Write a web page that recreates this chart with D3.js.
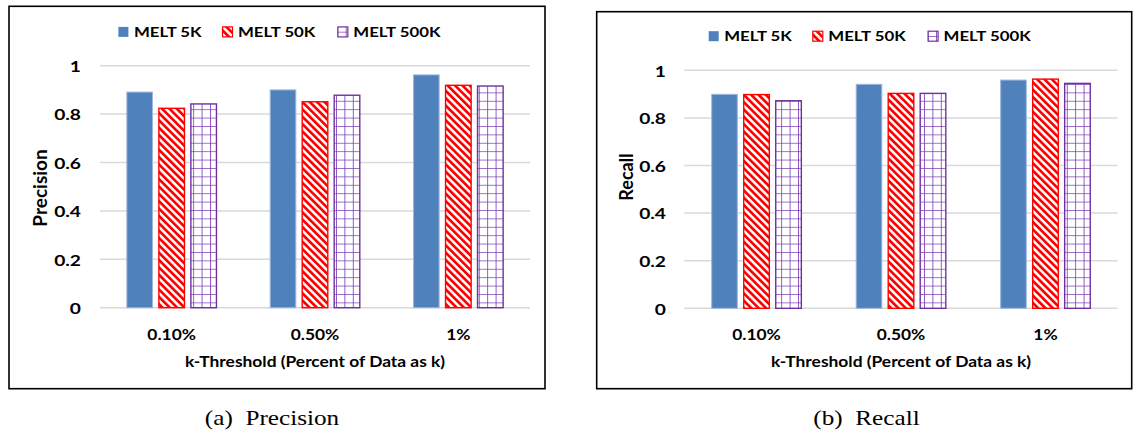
<!DOCTYPE html>
<html>
<head>
<meta charset="utf-8">
<script src="https://cdn.jsdelivr.net/npm/d3@7"></script>
<style>
  html, body { margin: 0; padding: 0; background: #fff; }
  svg { display: block; }
  text { font-family: Lato, "Open Sans", sans-serif; font-weight: bold; fill: #000; }
  .cap { font-family: "Liberation Serif", "Times New Roman", serif; font-weight: normal; white-space: pre; }
</style>
</head>
<body>
<svg id="chart" width="1133" height="434"></svg>
<script>
// ---------- data ----------
const categories = ["0.10%", "0.50%", "1%"];
const seriesNames = ["MELT 5K", "MELT 50K", "MELT 500K"];
const yTicks = [0, 0.2, 0.4, 0.6, 0.8, 1];

const precision5K   = [0.891, 0.900, 0.962];
const precision50K  = [0.824, 0.851, 0.919];
const precision500K = [0.842, 0.878, 0.916];

const recall5K   = [0.899, 0.941, 0.959];
const recall50K  = [0.898, 0.903, 0.963];
const recall500K = [0.872, 0.903, 0.945];

const xTitle = "k-Threshold (Percent of Data as k)";

// ---------- layout ----------
const SX = 1.2; // horizontal stretch of the text in the reference
const svg = d3.select("#chart");

const defs = svg.append("defs");
// red wide downward diagonal stripes
const pStripe = defs.append("pattern")
  .attr("id", "stripes").attr("patternUnits", "userSpaceOnUse")
  .attr("width", 5.2).attr("height", 5.2)
  .attr("patternTransform", "rotate(-45)");
pStripe.append("rect").attr("width", 5.2).attr("height", 5.2).attr("fill", "#fff");
pStripe.append("rect").attr("width", 2.7).attr("height", 5.2).attr("fill", "#FF0000");
// purple large grid
const pGrid = defs.append("pattern")
  .attr("id", "grid").attr("patternUnits", "userSpaceOnUse")
  .attr("width", 8.4).attr("height", 8.4);
pGrid.append("rect").attr("width", 8.4).attr("height", 8.4).attr("fill", "#fff");
pGrid.append("path").attr("d", "M0,0H8.4M0,0V8.4")
  .attr("stroke", "#7A38B4").attr("stroke-width", 1.6).attr("fill", "none");

const fills   = ["#4F81BD", "url(#stripes)", "url(#grid)"];
const strokes = ["#9DB6DA", "#FF0000", "#7030A0"];
const strokeW = [1, 1.4, 1.4];

const panels = [
  {
    values: [precision5K, precision50K, precision500K],
    frame: [9, 6.3, 545, 388.7],
    xr: [100, 530], yr: [307.7, 65.7],
    ylab: "Precision", ylabX: 40, ylabY: 188, ylabSize: 19,
    legendY: 31.7, legendX: 117.9,
    tickRight: 81, catY: 335, titleY: 362,
    caption: "(a)  Precision", capX: 272, capY: 425
  },
  {
    values: [recall5K, recall50K, recall500K],
    frame: [596.7, 11.7, 1131.7, 388.7],
    xr: [684.3, 1117.7], yr: [308.3, 70.3],
    ylab: "Recall", ylabX: 626.7, ylabY: 177, ylabSize: 18,
    legendY: 36, legendX: 708.2,
    tickRight: 666, catY: 335, titleY: 362,
    caption: "(b)  Recall", capX: 866.5, capY: 425
  }
];

const legendOffsets = [0, 104.1, 219.4];

panels.forEach(P => {
  const g = svg.append("g");
  // frame
  g.append("rect")
    .attr("x", P.frame[0]).attr("y", P.frame[1])
    .attr("width", P.frame[2] - P.frame[0]).attr("height", P.frame[3] - P.frame[1])
    .attr("fill", "none").attr("stroke", "#000").attr("stroke-width", 1.6);

  const x0 = d3.scaleBand().domain(categories).range(P.xr).paddingInner(0).paddingOuter(0);
  const x1 = d3.scaleBand().domain(seriesNames).range([-48, 48]).paddingInner(0.2).paddingOuter(0.1);
  const y = d3.scaleLinear().domain([0, 1]).range(P.yr);

  // gridlines
  g.append("g").selectAll("line").data(yTicks).join("line")
    .attr("x1", P.xr[0]).attr("x2", P.xr[1])
    .attr("y1", d => y(d)).attr("y2", d => y(d))
    .attr("stroke", "#D9D9D9").attr("stroke-width", 1.5);

  // y axis tick labels
  const ya = g.append("g").attr("transform", `translate(${P.tickRight},0)`)
    .call(d3.axisLeft(y).tickValues(yTicks).tickFormat(d3.format("~g")).tickSize(0).tickPadding(0));
  ya.select(".domain").remove();
  ya.selectAll("text")
    .attr("x", 0).attr("dy", "0.36em")
    .attr("transform", `scale(${SX},1)`)
    .style("font-size", "16px").style("font-family", "Lato").style("font-weight", "bold")
    .attr("fill", "#000");

  // bars
  seriesNames.forEach((s, si) => {
    g.append("g").selectAll("rect").data(categories).join("rect")
      .attr("x", (c) => x0(c) + x0.bandwidth() / 2 + x1(s))
      .attr("y", (c, i) => y(P.values[si][i]))
      .attr("width", x1.bandwidth())
      .attr("height", (c, i) => y(0) - y(P.values[si][i]))
      .attr("fill", fills[si])
      .attr("stroke", strokes[si]).attr("stroke-width", strokeW[si]);
  });

  // x axis category labels
  const xa = g.append("g").attr("transform", `translate(0,${P.catY})`)
    .call(d3.axisBottom(x0).tickSize(0).tickPadding(0));
  xa.select(".domain").remove();
  xa.selectAll("text")
    .attr("y", 0).attr("dy", "0.36em")
    .attr("transform", `scale(${SX},1)`)
    .style("font-size", "14.5px").style("font-family", "Lato").style("font-weight", "bold")
    .attr("fill", "#000");

  // x title
  g.append("text")
    .attr("transform", `translate(${(P.xr[0] + P.xr[1]) / 2},${P.titleY}) scale(${SX},1)`)
    .attr("text-anchor", "middle").attr("dy", "0.36em")
    .style("font-size", "14.5px")
    .text(xTitle);

  // y title
  g.append("text")
    .attr("transform", `translate(${P.ylabX},${P.ylabY}) rotate(-90)`)
    .attr("text-anchor", "middle").attr("dy", "0.36em")
    .style("font-size", P.ylabSize + "px")
    .text(P.ylab);

  // legend
  const lg = g.append("g").attr("transform", `translate(${P.legendX},${P.legendY})`);
  seriesNames.forEach((s, si) => {
    const it = lg.append("g").attr("transform", `translate(${legendOffsets[si]},0)`);
    it.append("rect").attr("x", 0.5).attr("y", -4.8).attr("width", 10).attr("height", 10)
      .attr("fill", fills[si]).attr("stroke", si === 0 ? "none" : strokes[si]).attr("stroke-width", 1.2);
    it.append("text")
      .attr("transform", `translate(16,0) scale(${SX},1)`)
      .attr("dy", "0.36em").style("font-size", "14px")
      .text(s);
  });

  // caption
  svg.append("text").attr("class", "cap")
    .attr("transform", `translate(${P.capX},${P.capY}) scale(${SX},1)`)
    .attr("text-anchor", "middle")
    .style("font-size", "21px")
    .text(P.caption);
});
</script>
</body>
</html>
